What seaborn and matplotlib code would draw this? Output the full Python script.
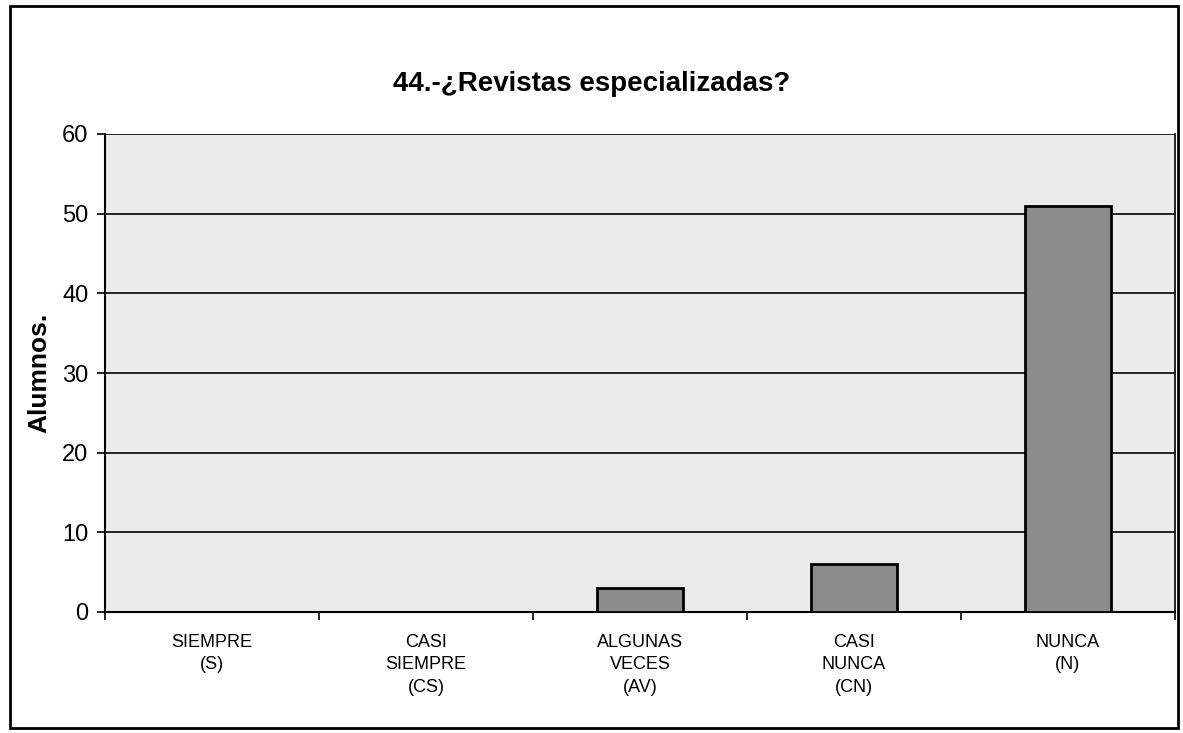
import numpy as np
import pandas as pd
import matplotlib
matplotlib.use("Agg")
import matplotlib.pyplot as plt
import seaborn as sns
from matplotlib.patches import Rectangle

# --- Datos ---
categorias = ["SIEMPRE\n(S)", "CASI\nSIEMPRE\n(CS)", "ALGUNAS\nVECES\n(AV)", "CASI\nNUNCA\n(CN)", "NUNCA\n(N)"]
alumnos = [0, 0, 3, 6, 51]
titulo = "44.-¿Revistas especializadas?"
etiqueta_y = "Alumnos."

df = pd.DataFrame({"categoria": categorias, "alumnos": alumnos})

sns.set_style("white")
plt.rcParams["font.family"] = ["Liberation Sans", "DejaVu Sans"]
plt.rcParams["text.color"] = "black"
plt.rcParams["axes.labelcolor"] = "black"
plt.rcParams["xtick.color"] = "black"
plt.rcParams["ytick.color"] = "black"

fig = plt.figure(figsize=(11.83, 7.33), dpi=100)
ax = fig.add_axes([105 / 1183, 1 - 612 / 733, 1070 / 1183, 478 / 733])
ax.set_facecolor("#ebebeb")

sns.barplot(data=df, x="categoria", y="alumnos", color="#8c8c8c",
            edgecolor="black", linewidth=2, width=0.4, saturation=1, ax=ax, zorder=3)

# barras con valor cero no se dibujan
for barra, v in zip(ax.patches, alumnos):
    if v == 0:
        barra.set_visible(False)

ax.set_xlim(-0.5, len(categorias) - 0.5)
ax.set_ylim(0, 60)
ax.set_yticks(np.arange(0, 61, 10))
ax.yaxis.grid(True, color="black", linewidth=1.2, zorder=1)
ax.set_axisbelow(True)

ax.spines["top"].set_visible(False)
ax.spines["right"].set_linewidth(1.2)
ax.spines["left"].set_linewidth(1.5)
ax.spines["bottom"].set_linewidth(1.5)
for s in ax.spines.values():
    s.set_color("black")

ax.tick_params(axis="y", which="major", left=True, length=6, width=1.2, labelsize=17, pad=6)
ax.tick_params(axis="x", which="major", bottom=False, labelsize=13, pad=12)
ax.set_xticks(np.arange(-0.5, len(categorias), 1), minor=True)
ax.tick_params(axis="x", which="minor", bottom=True, length=6, width=1.2)
for lbl in ax.get_xticklabels():
    lbl.set_linespacing(1.45)

ax.set_xlabel("")
ax.set_ylabel(etiqueta_y, fontsize=19, fontweight="bold", labelpad=8)

fig.text(0.5, 1 - 84 / 733, titulo, ha="center", va="center", fontsize=20, fontweight="bold")

# marco exterior
fig.patches.append(Rectangle((10 / 1183, 1 - 728 / 733), 1168 / 1183, 722 / 733,
                             transform=fig.transFigure, fill=False, edgecolor="black", linewidth=2))

fig.savefig("out.png", dpi=100)
